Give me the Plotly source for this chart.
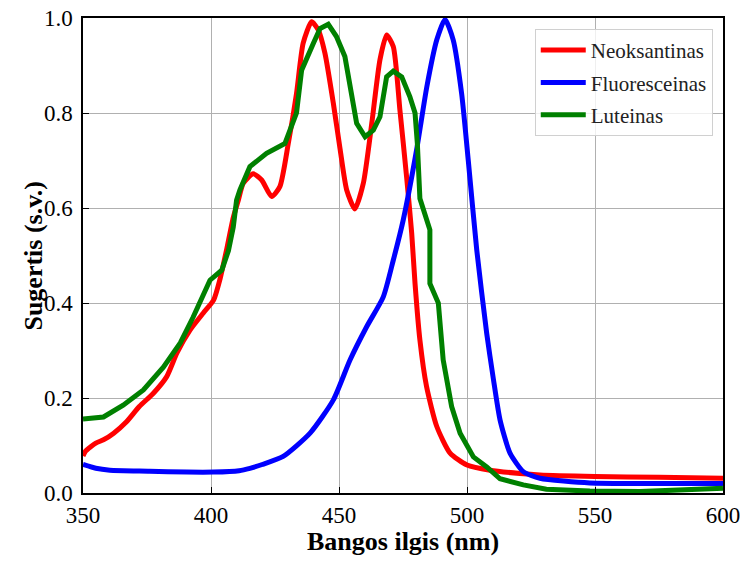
import plotly.graph_objects as go

# Neoksantinas (red)
neo_x = [350, 351, 355, 358, 362, 367, 372, 377.5, 382.7, 386.7, 391.8, 397, 401, 403.5, 406, 408.7, 410.7,
         412.6, 416.5, 419.8, 423.7, 426.9, 430.2, 433.4, 436, 439.3, 441.9, 444.5, 447.8, 450.4, 453, 456.2,
         459.5, 462.8, 466, 468.6, 471.2, 473.8, 476.4, 478.4, 479.7, 481.6, 484.2, 488.2, 493.4, 500, 509,
         520.7, 528.5, 550, 575, 600]
neo_y = [0.078, 0.088, 0.105, 0.112, 0.126, 0.15, 0.182, 0.21, 0.245, 0.295, 0.343, 0.379, 0.406, 0.45, 0.51,
         0.58, 0.617, 0.652, 0.672, 0.659, 0.624, 0.645, 0.736, 0.841, 0.947, 0.992, 0.975, 0.926, 0.82, 0.725,
         0.638, 0.598, 0.652, 0.778, 0.912, 0.964, 0.94, 0.806, 0.666, 0.547, 0.441, 0.322, 0.224, 0.14, 0.084,
         0.059, 0.048, 0.041, 0.038, 0.035, 0.033, 0.031]

# Fluoresceinas (blue)
flu_x = [350, 355, 360.5, 376, 390.6, 401, 411, 415.2, 420, 428.2, 438.7, 447.8, 454.3, 460.8, 467.3, 471.2,
         475.1, 480.3, 484.3, 488.2, 491.4, 494.6, 497.9, 500.5, 503.8, 507.7, 510.3, 512.9, 516.8, 522, 528.5,
         548, 575, 600]
flu_y = [0.06, 0.052, 0.048, 0.046, 0.044, 0.044, 0.047, 0.052, 0.06, 0.077, 0.126, 0.196, 0.28, 0.35, 0.413,
         0.49, 0.575, 0.722, 0.855, 0.954, 0.997, 0.954, 0.841, 0.70, 0.512, 0.336, 0.24, 0.154, 0.084, 0.045,
         0.031, 0.021, 0.02, 0.02]

# Luteinas (green)
lut_x = [350, 358, 365.7, 373.6, 381.4, 388, 393, 398.4, 399.6, 404.2, 406.8, 408.7, 410, 411.3, 415.2, 421.7,
         428.9, 433.4, 435.4, 440, 442.6, 445.8, 449, 452.3, 454.3, 456.9, 460.2, 463.4, 466, 468.6, 471.2,
         474.5, 477.7, 479.7, 480.6, 481.6, 485.5, 485.5, 488.8, 490.7, 494, 497.3, 502.5, 507.7, 512.9, 522,
         531, 548, 567.5, 600]
lut_y = [0.156, 0.16, 0.185, 0.217, 0.265, 0.316, 0.37, 0.43, 0.448, 0.469, 0.51, 0.56, 0.617, 0.638, 0.687,
         0.715, 0.736, 0.80, 0.89, 0.947, 0.978, 0.987, 0.961, 0.919, 0.852, 0.778, 0.75, 0.764, 0.792, 0.876,
         0.888, 0.876, 0.834, 0.80, 0.736, 0.62, 0.554, 0.441, 0.40, 0.28, 0.182, 0.126, 0.076, 0.055, 0.03,
         0.017, 0.008, 0.004, 0.003, 0.01]

x_title = "Bangos ilgis (nm)"
y_title = "Sugertis (s.v.)"

series = [
    ("Neoksantinas", neo_x, neo_y, "#ff0000", "spline"),
    ("Fluoresceinas", flu_x, flu_y, "#0000ff", "spline"),
    ("Luteinas", lut_x, lut_y, "#008000", "linear"),
]

fig = go.Figure()
for i, (name, xs, ys, col, shape) in enumerate(series):
    fig.add_trace(go.Scatter(x=xs, y=ys, name=name, mode="lines", legendgroup=str(i),
                             line=dict(color=col, width=5, shape=shape, smoothing=0.6)))

font_family = "Liberation Serif"
axis_common = dict(showgrid=True, gridcolor="#b0b0b0", gridwidth=1, showline=True, linecolor="black",
                   linewidth=1.5, mirror=True, ticks="inside", ticklen=6, tickcolor="black", zeroline=False,
                   automargin=False,
                   tickfont=dict(family=font_family, size=23, color="black"))

fig.update_layout(
    width=744, height=561,
    margin=dict(l=83, r=21, t=18, b=68),
    plot_bgcolor="white", paper_bgcolor="white",
    font=dict(family=font_family, color="black"),
    xaxis=dict(range=[350, 600], tickvals=[350, 400, 450, 500, 550, 600], ticklabelstandoff=1,
               **axis_common),
    yaxis=dict(range=[0, 1.0], tickvals=[0, 0.2, 0.4, 0.6, 0.8, 1.0], tickformat=".1f", ticklabelstandoff=4,
               **axis_common),
    legend=dict(x=0.984, y=0.977, xanchor="right", yanchor="top", bgcolor="rgba(255,255,255,0.8)",
                bordercolor="#d0d0d0", borderwidth=1, tracegroupgap=2, itemwidth=45,
                font=dict(family=font_family, size=21, color="#222")),
    showlegend=True,
    annotations=[
        dict(text="<b>" + x_title + "</b>", xref="paper", yref="paper", x=0.5, y=-0.103,
             xanchor="center", yanchor="middle", showarrow=False,
             font=dict(family=font_family, size=26, color="black")),
        dict(text="<b>" + y_title + "</b>", xref="paper", yref="paper", x=-0.078, y=0.5,
             xanchor="center", yanchor="middle", showarrow=False, textangle=-90,
             font=dict(family=font_family, size=26, color="black")),
    ],
)

fig.write_html("out.html")
